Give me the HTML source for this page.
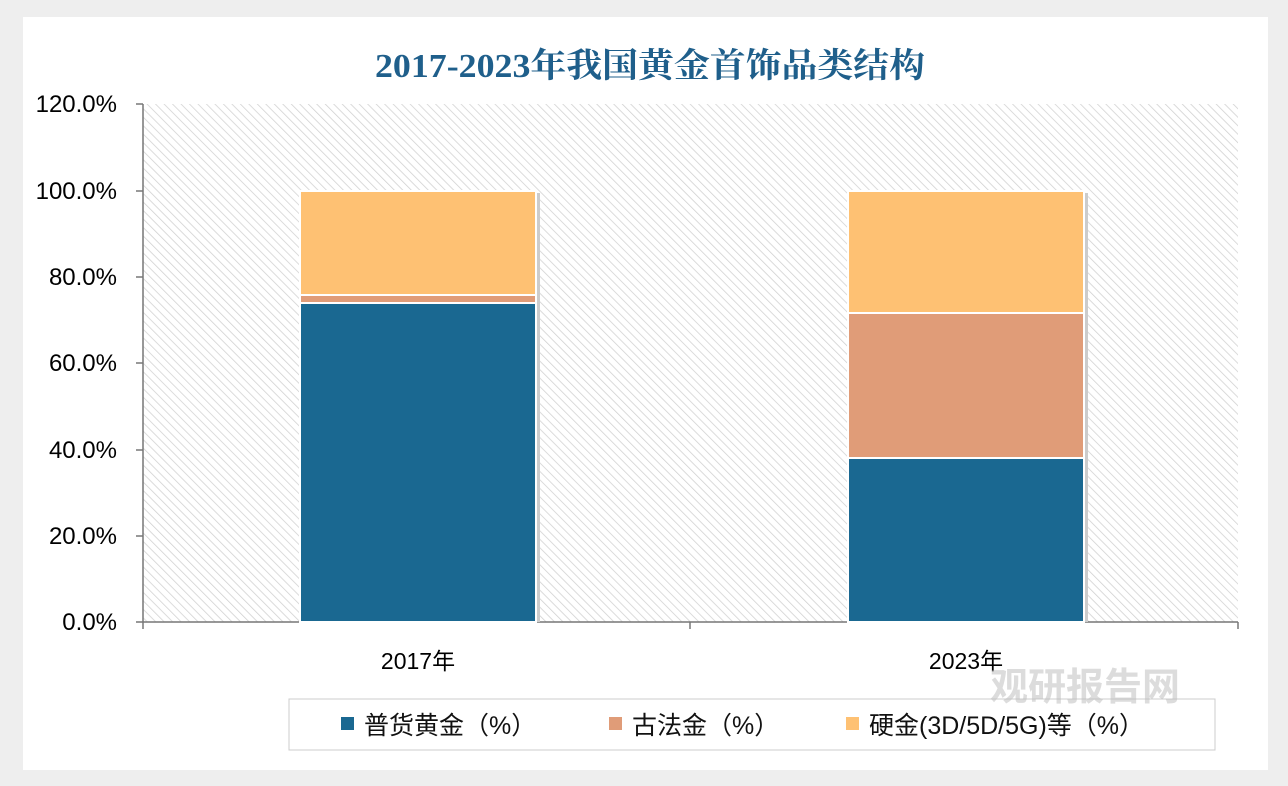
<!DOCTYPE html>
<html><head><meta charset="utf-8"><style>
body{margin:0;background:#f0f0f0;}
svg{display:block;font-family:"Liberation Sans","Noto Sans CJK SC",sans-serif;}
</style></head><body>
<svg width="1288" height="786" viewBox="0 0 1288 786">
<defs>
<pattern id="h" width="6" height="6" patternUnits="userSpaceOnUse" patternTransform="rotate(-45)">
<rect width="6" height="6" fill="#fff"/><line x1="0" y1="0" x2="0" y2="6" stroke="#d0d0d0" stroke-width="1.5"/>
</pattern>
</defs>
<rect x="0" y="0" width="1288" height="786" fill="#eeeeee"/>
<rect x="23" y="17" width="1245" height="753" fill="#ffffff"/>
<text x="650" y="77" text-anchor="middle" font-family="'Liberation Serif','Noto Serif CJK SC',serif" font-weight="bold" font-size="34" fill="#1f5f8b" textLength="550" lengthAdjust="spacingAndGlyphs">2017-2023年我国黄金首饰品类结构</text>
<rect x="143" y="104" width="1095" height="518" fill="url(#h)"/>
<g fill="#000" font-size="24" text-anchor="end">
<text x="117" y="112">120.0%</text><text x="117" y="199">100.0%</text><text x="117" y="285">80.0%</text>
<text x="117" y="371">60.0%</text><text x="117" y="458">40.0%</text><text x="117" y="544">20.0%</text><text x="117" y="630">0.0%</text>
</g>
<g stroke="#777" stroke-width="1.5">
<line x1="143" y1="104" x2="143" y2="622"/>
<line x1="136" y1="104" x2="143" y2="104"/><line x1="136" y1="191" x2="143" y2="191"/><line x1="136" y1="277" x2="143" y2="277"/>
<line x1="136" y1="363" x2="143" y2="363"/><line x1="136" y1="450" x2="143" y2="450"/><line x1="136" y1="536" x2="143" y2="536"/>
<line x1="136" y1="622" x2="1238" y2="622"/>
<line x1="143" y1="622" x2="143" y2="629"/><line x1="690" y1="622" x2="690" y2="629"/><line x1="1238" y1="622" x2="1238" y2="629"/>
</g>
<g stroke="#fff" stroke-width="2">
<rect x="300" y="191" width="236" height="104" fill="#fec173"/>
<rect x="300" y="295" width="236" height="8" fill="#e09c78"/>
<rect x="300" y="303" width="236" height="319" fill="#1a6891"/>
<rect x="848" y="191" width="236" height="122" fill="#fec173"/>
<rect x="848" y="313" width="236" height="145" fill="#e09c78"/>
<rect x="848" y="458" width="236" height="164" fill="#1a6891"/>
</g>
<rect x="537" y="193" width="3" height="429" fill="#ccc"/>
<rect x="1085" y="193" width="3" height="429" fill="#ccc"/>
<g font-size="23" fill="#000" text-anchor="middle">
<text x="418" y="669">2017年</text><text x="966" y="669">2023年</text>
</g>
<rect x="289" y="699" width="926" height="51" fill="#fff" stroke="#ccc"/>
<g font-size="25" fill="#111">
<rect x="341" y="717" width="13" height="13" fill="#1a6891"/><text x="364" y="734">普货黄金（%）</text>
<rect x="609" y="717" width="13" height="13" fill="#e09c78"/><text x="632" y="734">古法金（%）</text>
<rect x="846" y="717" width="13" height="13" fill="#fec173"/><text x="869" y="734">硬金(3D/5D/5G)等（%）</text>
</g>
<text x="990" y="700" font-size="38" font-weight="bold" fill="#bbb" opacity="0.5" font-family="'Noto Sans CJK SC',sans-serif">观研报告网</text>
</svg>
</body></html>
